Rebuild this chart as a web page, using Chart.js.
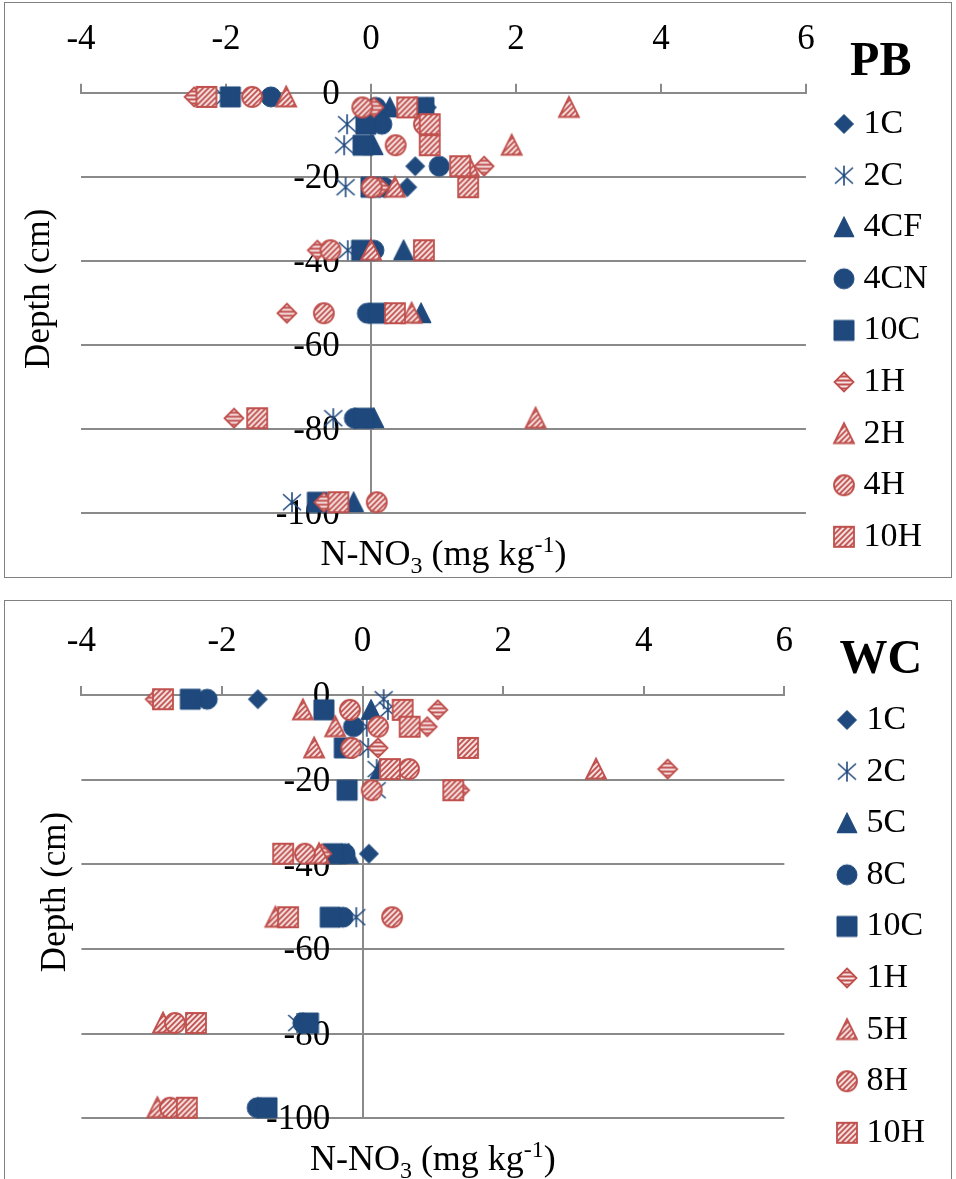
<!DOCTYPE html>
<html>
<head>
<meta charset="utf-8">
<script src="https://cdn.jsdelivr.net/npm/chart.js@4.4.1/dist/chart.umd.min.js"></script>
<style>
  html, body { margin: 0; padding: 0; background: #fff; overflow: hidden; }
  .frame { position: absolute; left: 4px; width: 948px; border: 1px solid #808080; box-sizing: border-box; }
  #pbFrame { top: 2px; height: 576px; }
  #wcFrame { top: 600px; height: 582px; }
  canvas { position: absolute; display: block; left: 5px; }
  #pbChart { top: -5px; }
  #wcChart { top: 596px; }
</style>
</head>
<body>
<div class="frame" id="pbFrame"></div>
<div class="frame" id="wcFrame"></div>
<canvas id="pbChart" width="946" height="582"></canvas>
<canvas id="wcChart" width="946" height="586"></canvas>
<script>
// sampling depths (cm), shared by every series below
const depthRows = [-1, -3.5, -7.5, -12.5, -17.5, -22.5, -37.5, -52.5, -77.5, -97.5];

// x axis (N-NO3, mg/kg) and y axis (depth) ranges
const xMin = -4, xMax = 6, xStep = 2;
const yMin = -100, yMax = 0, yStep = 20;

// PB site, one value per depth row (null = no sample)
const pbNames = ['1C', '2C', '4CF', '4CN', '10C', '1H', '2H', '4H', '10H'];
const pb1C  = [null, 0.77, null, null, 0.61, 0.50, null, null, null, null];
const pb2C  = [-2.02, null, -0.33, -0.37, null, -0.35, -0.32, null, -0.52, -1.09];
const pb4CF = [null, 0.26, null, 0.03, null, null, 0.45, 0.69, 0.04, -0.24];
const pb4CN = [-1.38, 0.07, 0.15, null, 0.94, 0.18, 0.04, -0.05, -0.23, null];
const pb10C = [-1.94, 0.73, -0.07, -0.11, null, 0.00, -0.13, 0.10, -0.10, -0.74];
const pb1H  = [-2.44, 0.04, null, null, 1.56, 0.12, -0.74, -1.16, -1.89, -0.65];
const pb2H  = [-1.17, 2.73, null, 1.94, 1.35, 0.33, 0.00, 0.56, 2.27, null];
const pb4H  = [-1.64, -0.12, 0.73, 0.34, null, 0.01, -0.56, -0.65, null, 0.08];
const pb10H = [-2.27, 0.50, 0.81, 0.81, 1.23, 1.34, 0.73, 0.33, -1.57, -0.45];

// WC site
const wcNames = ['1C', '2C', '5C', '8C', '10C', '1H', '5H', '8H', '10H'];
const wc1C  = [-1.49, null, null, null, null, null, 0.09, null, null, null];
const wc2C  = [0.30, 0.36, 0.06, 0.08, 0.20, 0.20, null, -0.09, -0.93, null];
const wc5C  = [null, 0.12, null, null, 0.25, null, -0.20, null, null, null];
const wc8C  = [-2.21, null, -0.13, null, null, null, -0.25, -0.28, -0.85, -1.50];
const wc10C = [-2.45, -0.55, null, -0.26, null, -0.22, -0.42, -0.46, -0.77, -1.36];
const wc1H  = [-2.95, 1.07, 0.92, 0.22, 4.34, 1.38, -0.58, null, null, null];
const wc5H  = [null, -0.85, -0.39, -0.69, 3.32, null, -0.62, -1.24, -2.84, -2.92];
const wc8H  = [null, -0.18, 0.22, -0.16, 0.66, 0.13, -0.82, 0.42, -2.67, -2.74];
const wc10H = [-2.84, 0.57, 0.67, 1.50, 0.39, 1.29, -1.13, -1.06, -2.37, -2.50];

const markerShapes = ['diamond', 'star', 'triangle', 'circle', 'square', 'diamond', 'triangle', 'circle', 'square'];
const markerHatched = [false, false, false, false, false, true, true, true, true];

const BLUE = '#1F497D';
const RED = '#C0504D';
const AXIS_GREY = '#8a8a8a';
const SERIF = '"Liberation Serif", "Times New Roman", serif';

Chart.defaults.font.family = SERIF;
Chart.defaults.color = '#000';

// marker images, reused by the points and the legend
const makeMarker = (shape, hatched) => {
  const size = 26;
  const c = size / 2;
  const cv = document.createElement('canvas');
  cv.width = size;
  cv.height = size;
  const g = cv.getContext('2d');

  if (shape === 'star') {
    g.strokeStyle = BLUE;
    g.lineWidth = 1.6;
    g.beginPath();
    g.moveTo(c, c - 10); g.lineTo(c, c + 10);
    g.moveTo(c - 9, c - 8); g.lineTo(c + 9, c + 8);
    g.moveTo(c - 9, c + 8); g.lineTo(c + 9, c - 8);
    g.stroke();
    return cv;
  }

  const path = () => {
    g.beginPath();
    if (shape === 'diamond') {
      g.moveTo(c, c - 9.5); g.lineTo(c + 9.5, c); g.lineTo(c, c + 9.5); g.lineTo(c - 9.5, c);
      g.closePath();
    } else if (shape === 'triangle') {
      g.moveTo(c, c - 10.5); g.lineTo(c + 10, c + 9.5); g.lineTo(c - 10, c + 9.5);
      g.closePath();
    } else if (shape === 'circle') {
      g.arc(c, c, 10, 0, Math.PI * 2);
    } else {
      g.rect(c - 10, c - 10, 20, 20);
    }
  };

  if (!hatched) {
    path();
    g.fillStyle = BLUE;
    g.fill();
    g.strokeStyle = BLUE;
    g.lineWidth = 1;
    g.stroke();
    return cv;
  }

  path();
  g.fillStyle = RED;
  g.fill();
  g.save();
  path();
  g.clip();
  g.strokeStyle = 'rgba(255, 255, 255, 0.85)';
  g.lineWidth = 2;
  g.beginPath();
  if (shape === 'diamond') {
    // the diamond is a turned square, so its stripes lie flat
    for (let y = 1.5; y < size; y += 4) { g.moveTo(0, y); g.lineTo(size, y); }
  } else {
    for (let k = -size; k < size * 2; k += 5.5) { g.moveTo(k, size); g.lineTo(k + size, 0); }
  }
  g.stroke();
  g.restore();
  path();
  g.strokeStyle = RED;
  g.lineWidth = 1.8;
  g.stroke();
  return cv;
};

const markers = markerShapes.map((s, i) => makeMarker(s, markerHatched[i]));

// axis titles: rotated depth label and N-NO3 with sub/superscript
const xTitleParts = [
  { text: 'N-NO', size: 36, shift: 0 },
  { text: '3', size: 24, shift: 8 },
  { text: ' (mg kg', size: 36, shift: 0 },
  { text: '-1', size: 24, shift: -13 },
  { text: ')', size: 36, shift: 0 },
];

const axisTitles = {
  id: 'axisTitles',
  afterDraw(chart, args, opts) {
    const { ctx, chartArea } = chart;
    ctx.save();
    ctx.fillStyle = '#000';
    ctx.font = `35px ${SERIF}`;
    ctx.textAlign = 'center';
    ctx.textBaseline = 'middle';
    ctx.translate(chartArea.left - opts.depthOffset, (chartArea.top + chartArea.bottom) / 2 - opts.depthShift);
    ctx.rotate(-Math.PI / 2);
    ctx.fillText('Depth (cm)', 0, 0);
    ctx.restore();

    ctx.save();
    ctx.fillStyle = '#000';
    ctx.textAlign = 'left';
    ctx.textBaseline = 'alphabetic';
    let total = 0;
    xTitleParts.forEach((p) => {
      ctx.font = `${p.size}px ${SERIF}`;
      p.w = ctx.measureText(p.text).width;
      total += p.w;
    });
    let x = (chartArea.left + chartArea.right) / 2 - total / 2;
    const base = chartArea.bottom + opts.noBaseline;
    xTitleParts.forEach((p) => {
      ctx.font = `${p.size}px ${SERIF}`;
      ctx.fillText(p.text, x, base + p.shift);
      x += p.w;
    });
    ctx.restore();
  },
};

const buildChart = (canvasId, p) => {
  const datasets = p.names.map((name, i) => ({
    label: name,
    data: depthRows
      .map((d, r) => (p.values[i][r] === null ? null : { x: p.values[i][r], y: d }))
      .filter(Boolean),
    pointStyle: markers[i],
    pointRadius: 10,
    pointHoverRadius: 10,
    clip: false,
    order: -i,
  }));

  return new Chart(document.getElementById(canvasId), {
    type: 'scatter',
    data: { datasets },
    options: {
      responsive: false,
      animation: false,
      devicePixelRatio: 1,
      events: [],
      layout: { padding: p.padding },
      scales: {
        x: {
          type: 'linear',
          position: 'top',
          min: xMin,
          max: xMax,
          ticks: { stepSize: xStep, padding: 22.7, maxRotation: 0, color: '#000', font: { size: 35 } },
          grid: {
            color: (c) => (c.tick && c.tick.value === 0 ? AXIS_GREY : 'rgba(0, 0, 0, 0)'),
            tickColor: AXIS_GREY,
            lineWidth: 2,
            tickLength: 9,
          },
          border: { display: true, color: AXIS_GREY, width: 2 },
        },
        y: {
          type: 'linear',
          position: { x: p.yLabelAt },
          min: yMin,
          max: yMax,
          ticks: { stepSize: yStep, padding: 0, labelOffset: 2, color: '#000', font: { size: 35 } },
          grid: { color: AXIS_GREY, lineWidth: 2, drawTicks: false },
          border: { display: false },
        },
        gapRight: {
          type: 'linear',
          axis: 'y',
          position: 'right',
          ticks: { display: false },
          grid: { display: false },
          border: { display: false },
          afterFit: (s) => { s.width = p.gapRight; },
        },
        gapBottom: {
          type: 'linear',
          axis: 'x',
          position: 'bottom',
          ticks: { display: false },
          grid: { display: false },
          border: { display: false },
          afterFit: (s) => { s.height = p.gapBottom; },
        },
      },
      plugins: {
        tooltip: { enabled: false },
        legend: {
          position: 'right',
          align: 'start',
          title: {
            display: true,
            text: p.title,
            color: '#000',
            font: { size: 48, weight: 'bold', lineHeight: 1 },
            padding: { top: p.titleTop, bottom: p.titleBottom },
          },
          labels: {
            usePointStyle: true,
            boxWidth: 5,
            padding: 17.6,
            color: '#000',
            font: { size: 34 },
            sort: (a, b) => a.datasetIndex - b.datasetIndex,
          },
        },
        axisTitles: { depthOffset: p.depthOffset, depthShift: p.depthShift, noBaseline: p.noBaseline },
      },
    },
    plugins: [axisTitles],
  });
};

buildChart('pbChart', {
  title: 'PB',
  names: pbNames,
  values: [pb1C, pb2C, pb4CF, pb4CN, pb10C, pb1H, pb2H, pb4H, pb10H],
  padding: { top: 1.3, left: 76, right: 13.3, bottom: 0 },
  gapRight: 17.9,
  gapBottom: 64.3,
  titleTop: 42.7,
  titleBottom: 2.4,
  yLabelAt: -0.43,
  depthOffset: 41,
  depthShift: 14,
  noBaseline: 52,
});

buildChart('wcChart', {
  title: 'WC',
  names: wcNames,
  values: [wc1C, wc2C, wc5C, wc8C, wc10C, wc1H, wc5H, wc8H, wc10H],
  padding: { top: 2.6, left: 76.4, right: 16, bottom: 0 },
  gapRight: 42.5,
  gapBottom: 63.7,
  titleTop: 38.4,
  titleBottom: 0.4,
  yLabelAt: -0.46,
  depthOffset: 26,
  depthShift: 14.7,
  noBaseline: 52,
});
</script>
</body>
</html>
